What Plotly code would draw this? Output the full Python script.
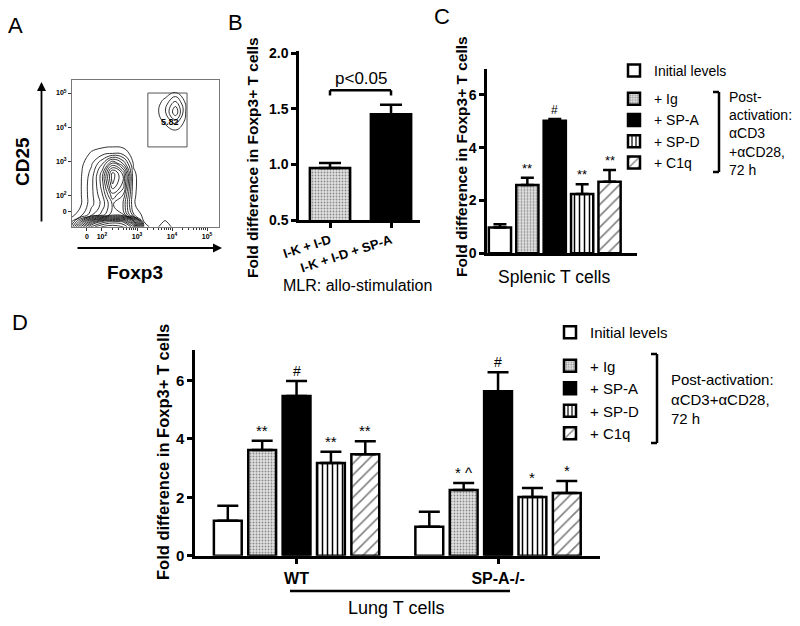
import plotly.graph_objects as go
import math

FONT = "Liberation Sans, Arial, Helvetica, sans-serif"
W, H = 800, 626

# ---------------- Panel A: flow cytometry contour (display units) ----------------
a_x = [1.1, 1.4, 1.7, 2.0, 2.3, 2.6, 2.9, 3.2, 3.5, 3.8, 4.1, 4.4, 4.7, 5.0, 5.4]
a_y = [1.1, 1.25, 1.45, 1.75, 2.05, 2.35, 2.65, 2.95, 3.25, 3.55, 3.85, 4.15, 4.45, 4.75, 5.05, 5.4]
a_z = [
    [4, 15, 27, 30, 31, 30, 25, 2, 0, 2.5, 0, 0, 0, 0, 0],
    [2, 10, 20, 25, 27, 26, 18, 1, 0, 1.2, 0, 0, 0, 0, 0],
    [0.3, 2, 6, 9, 13, 12, 3, 0.3, 0, 0, 0, 0, 0, 0, 0],
    [0, 0.9, 4, 7, 12, 10, 1.2, 0, 0, 0, 0, 0, 0, 0, 0],
    [0, 0.9, 4, 8, 15, 12, 1.3, 0, 0, 0, 0, 0, 0, 0, 0],
    [0, 0.9, 4, 9, 19, 15, 1.4, 0, 0, 0, 0, 0, 0, 0, 0],
    [0, 0.8, 3.5, 9, 20, 15, 1.3, 0, 0, 0, 0, 0, 0, 0, 0],
    [0, 0.5, 2.5, 6, 12, 8, 0.8, 0, 0, 0, 0, 0, 0, 0, 0],
    [0, 0, 1.2, 2.0, 2.5, 2.0, 0.2, 0, 0, 0, 0, 0, 0, 0, 0],
    [0, 0, 0, 0, 0, 0, 0, 0, 0, 0, 0, 0, 0, 0, 0],
    [0, 0, 0, 0, 0, 0, 0, 0, 0, 0, 0.2, 0, 0, 0, 0],
    [0, 0, 0, 0, 0, 0, 0, 0, 0, 1.2, 3.5, 0.3, 0, 0, 0],
    [0, 0, 0, 0, 0, 0, 0, 0, 0, 2.5, 8, 0.8, 0, 0, 0],
    [0, 0, 0, 0, 0, 0, 0, 0, 0, 1.5, 5, 0.4, 0, 0, 0],
    [0, 0, 0, 0, 0, 0, 0, 0, 0, 0, 0.5, 0, 0, 0, 0],
    [0, 0, 0, 0, 0, 0, 0, 0, 0, 0, 0, 0, 0, 0, 0],
]
a_xticks = [1.57, 2, 3, 4, 5]
a_yticks = [1.56, 2, 3, 4, 5]
a_ticklabels = ["0", "10<sup>2</sup>", "10<sup>3</sup>", "10<sup>4</sup>", "10<sup>5</sup>"]
a_gate_label = "5.82"

# ---------------- Panel B ----------------
b_labels = ["I-K + I-D", "I-K + I-D + SP-A"]
b_values = [0.967, 1.452]
b_sem = [0.045, 0.085]

# ---------------- Panel C / D shared ----------------
treatments = ["Initial levels", "+ Ig", "+ SP-A", "+ SP-D", "+ C1q"]

c_category = ["Splenic T cells"]
c_values = [0.98, 2.59, 5.02, 2.25, 2.71]
c_sem = [0.12, 0.27, 0.07, 0.37, 0.45]
c_marks = ["", "**", "#", "**", "**"]

d_groups = ["WT", "SP-A-/-"]
d_initial = [1.20, 0.99]
d_ig = [3.62, 2.25]
d_spa = [5.47, 5.64]
d_spd = [3.18, 2.01]
d_c1q = [3.48, 2.15]
d_initial_sem = [0.51, 0.52]
d_ig_sem = [0.32, 0.24]
d_spa_sem = [0.52, 0.65]
d_spd_sem = [0.38, 0.31]
d_c1q_sem = [0.44, 0.41]
d_marks_wt = ["", "**", "#", "**", "**"]
d_marks_ko = ["", "* ^", "#", "*", "*"]

# ---------------- styles ----------------
STY = [
    dict(bg="white", fg="black", shape="", size=8, sol=0.3),
    dict(bg="#e2e2e2", fg="#8a8a8a", shape=".", size=3, sol=0.3),
    dict(bg="black", fg="black", shape="", size=8, sol=0.3),
    dict(bg="white", fg="black", shape="|", size=5, sol=0.3),
    dict(bg="white", fg="#808080", shape="/", size=8, sol=0.2),
]
BARGAP = 0.147
BARGROUPGAP = 0.19
SLOT = (1 - BARGAP) / 5


def px(x):
    return x / W


def py(y):
    return 1 - y / H


fig = go.Figure()

# Panel A contour
fig.add_trace(go.Contour(
    x=a_x, y=a_y, z=a_z, xaxis="x", yaxis="y",
    contours=dict(coloring="lines", start=1, end=31, size=1.8),
    line=dict(width=0.8, smoothing=1.3),
    colorscale=[[0, "black"], [1, "black"]], showscale=False,
    showlegend=False, hoverinfo="skip",
))

# Panel B bars (two traces sharing one offset group)
for j, sty_idx in enumerate([1, 2]):
    s = STY[sty_idx]
    fig.add_trace(go.Bar(
        x=[b_labels[j]], y=[b_values[j]], xaxis="x2", yaxis="y2", width=0.66,
        offsetgroup="b",
        marker=dict(color=s["bg"], line=dict(color="black", width=2.5),
                    pattern=dict(shape=s["shape"], fgcolor=s["fg"], bgcolor=s["bg"],
                                 size=s["size"], solidity=s["sol"])),
        error_y=dict(type="data", symmetric=False, array=[b_sem[j]], arrayminus=[0],
                     color="black", thickness=2.5, width=11),
        showlegend=False,
    ))

# Panel C bars
for i, name in enumerate(treatments):
    s = STY[i]
    fig.add_trace(go.Bar(
        x=c_category, y=[c_values[i]], name=name, xaxis="x3", yaxis="y3",
        legend="legend", legendgroup="c_init" if i == 0 else "c_post",
        marker=dict(color=s["bg"], line=dict(color="black", width=2.5),
                    pattern=dict(shape=s["shape"], fgcolor=s["fg"], bgcolor=s["bg"],
                                 size=s["size"], solidity=s["sol"])),
        error_y=dict(type="data", symmetric=False, array=[c_sem[i]], arrayminus=[0],
                     color="black", thickness=2.5, width=6.5),
    ))

# Panel D bars
d_vals = [d_initial, d_ig, d_spa, d_spd, d_c1q]
d_sems = [d_initial_sem, d_ig_sem, d_spa_sem, d_spd_sem, d_c1q_sem]
for i, name in enumerate(treatments):
    s = STY[i]
    fig.add_trace(go.Bar(
        x=d_groups, y=d_vals[i], name=name, xaxis="x4", yaxis="y4",
        legend="legend2", legendgroup="d_init" if i == 0 else "d_post",
        marker=dict(color=s["bg"], line=dict(color="black", width=2.5),
                    pattern=dict(shape=s["shape"], fgcolor=s["fg"], bgcolor=s["bg"],
                                 size=s["size"], solidity=s["sol"])),
        error_y=dict(type="data", symmetric=False, array=d_sems[i], arrayminus=[0, 0],
                     color="black", thickness=2.5, width=10.5),
    ))

ann = []
shapes = []


def ptext(text, x, y, size, bold=False, angle=0, xanchor="center", align="center"):
    f = dict(size=size, family=FONT, color="black")
    if bold:
        f["weight"] = "bold"
    ann.append(dict(x=px(x), y=py(y), xref="paper", yref="paper", text=text, showarrow=False,
                    xanchor=xanchor, yanchor="middle", textangle=angle, align=align, font=f))


# significance marks C
for i, m in enumerate(c_marks):
    if m:
        ann.append(dict(x=(i - 2) * SLOT, y=c_values[i] + c_sem[i], xref="x3", yref="y3",
                        text=m, showarrow=False, xanchor="center", yanchor="bottom",
                        font=dict(size=13 if m != "#" else 12, family=FONT, color="black")))
# significance marks D
for g, marks in enumerate([d_marks_wt, d_marks_ko]):
    for i, m in enumerate(marks):
        if m:
            ann.append(dict(x=g + (i - 2) * SLOT, y=d_vals[i][g] + d_sems[i][g], xref="x4", yref="y4",
                            text=m, showarrow=False, xanchor="center", yanchor="bottom",
                            font=dict(size=15 if m != "#" else 14, family=FONT, color="black")))

# panel letters
for t, x, y in [("A", 15, 25), ("B", 235, 22), ("C", 442, 16), ("D", 20, 322)]:
    ptext(t, x, y, 22)

# Panel A texts and arrows
ptext("CD25", 23, 162, 19, bold=True, angle=-90)
ptext("Foxp3", 135, 272, 19, bold=True)
ann.append(dict(x=px(41.5), y=py(82), xref="paper", yref="paper", text="", showarrow=True,
                ax=0, ay=141, arrowhead=2, arrowsize=1, arrowwidth=1.8, arrowcolor="black"))
ann.append(dict(x=px(222), y=py(248), xref="paper", yref="paper", text="", showarrow=True,
                ax=-146, ay=0, arrowhead=2, arrowsize=1, arrowwidth=1.8, arrowcolor="black"))
ann.append(dict(x=3.94, y=4.17, xref="x", yref="y", text=a_gate_label, showarrow=False,
                xanchor="center", yanchor="middle",
                font=dict(size=9, family=FONT, color="black", weight="bold")))
shapes.append(dict(type="rect", xref="x", yref="y", x0=3.31, x1=4.43, y0=3.43, y1=5.0,
                   line=dict(color="#555555", width=1)))

# y-axis titles
YT = "Fold difference in Foxp3+ T cells"
for x, y, sz in [(252, 158, 15.5), (461, 157, 15.5), (163, 452, 16.5)]:
    ptext(YT, x, y, sz, bold=True, angle=-90)

# Panel B extras
ann.append(dict(x=0.5, y=1.667, xref="x2", yref="y2", text="p<0.05", showarrow=False,
                xanchor="center", yanchor="bottom", font=dict(size=17, family=FONT, color="black")))
for (x0, y0, x1, y1) in [(0, 1.62, 0, 1.667), (0, 1.667, 1, 1.667), (1, 1.667, 1, 1.62)]:
    shapes.append(dict(type="line", xref="x2", yref="y2", x0=x0, y0=y0, x1=x1, y1=y1,
                       line=dict(color="black", width=2.5)))
ptext("MLR: allo-stimulation", 357, 285, 16)

# Panel C extras
ptext("Splenic T cells", 554, 277, 17.5)
ptext("Post-<br>activation:<br>\u03b1CD3<br>+\u03b1CD28,<br>72 h", 727, 133, 14,
      xanchor="left", align="left")
for (x0, y0, x1, y1) in [(719, 92, 719, 172), (713, 92, 719, 92), (713, 172, 719, 172)]:
    shapes.append(dict(type="line", xref="paper", yref="paper", x0=px(x0), y0=py(y0),
                       x1=px(x1), y1=py(y1), line=dict(color="black", width=2.5)))

# Panel D extras
ptext("Post-activation:<br>\u03b1CD3+\u03b1CD28,<br>72 h", 669, 399, 15, xanchor="left", align="left")
for (x0, y0, x1, y1) in [(657, 354, 657, 443), (651, 354, 657, 354), (651, 443, 657, 443)]:
    shapes.append(dict(type="line", xref="paper", yref="paper", x0=px(x0), y0=py(y0),
                       x1=px(x1), y1=py(y1), line=dict(color="black", width=2.5)))
shapes.append(dict(type="line", xref="paper", yref="paper", x0=px(290), y0=py(591),
                   x1=px(510), y1=py(591), line=dict(color="black", width=2.5)))
ptext("Lung T cells", 396, 608, 18)

bold = lambda s: dict(size=s, family=FONT, color="black", weight="bold")
common_y = dict(showline=True, linewidth=2.5, linecolor="black", ticks="outside", ticklen=5,
                tickwidth=2.5, tickcolor="black", showgrid=False, zeroline=False, automargin=False)

minor_x = [d + math.log10(k) for d in (2, 3, 4) for k in range(2, 10)]

fig.update_layout(
    template="none",
    width=W, height=H, margin=dict(l=0, r=0, t=0, b=0, pad=0, autoexpand=False),
    paper_bgcolor="white", plot_bgcolor="white",
    font=dict(family=FONT, color="black"),
    barmode="group", bargap=BARGAP, bargroupgap=BARGROUPGAP,
    xaxis=dict(domain=[px(72), px(219)], range=[1.143, 5.343], anchor="y",
               tickvals=a_xticks, ticktext=a_ticklabels, tickfont=bold(7),
               ticks="outside", ticklen=3, tickwidth=1, tickcolor="#333",
               showline=True, mirror=True, linecolor="#777", linewidth=1,
               showgrid=False, zeroline=False, automargin=False,
               minor=dict(tickvals=minor_x, ticks="outside", ticklen=2, tickwidth=0.8, tickcolor="#333")),
    yaxis=dict(domain=[py(227), py(80)], range=[1.096, 5.38], anchor="x",
               tickvals=a_yticks, ticktext=a_ticklabels, tickfont=bold(7),
               ticks="outside", ticklen=3, tickwidth=1, tickcolor="#333",
               showline=True, mirror=True, linecolor="#777", linewidth=1,
               showgrid=False, zeroline=False, automargin=False),
    xaxis2=dict(domain=[px(299), px(420)], type="category", range=[-0.508, 1.475], anchor="y2",
                categoryorder="array", categoryarray=b_labels,
                showline=True, linewidth=2.5, linecolor="black", ticks="outside", ticklen=5,
                tickwidth=2.5, tickcolor="black", tickangle=-18, tickfont=bold(13),
                showgrid=False, zeroline=False, automargin=False),
    yaxis2=dict(domain=[py(220), py(51)], range=[0.5, 2.02], anchor="x2",
                tickvals=[0.5, 1.0, 1.5, 2.0], ticktext=["0.5", "1.0", "1.5", "2.0"],
                tickfont=bold(14), **common_y),
    xaxis3=dict(domain=[px(487), px(637)], type="category", range=[-0.4218, 0.5121], anchor="y3",
                showline=True, linewidth=2.5, linecolor="black", ticks="", showticklabels=False,
                showgrid=False, zeroline=False, automargin=False),
    yaxis3=dict(domain=[py(253.3), py(68.5)], range=[0, 7], anchor="x3",
                tickvals=[0, 2, 4, 6], tickfont=bold(14), **common_y),
    xaxis4=dict(domain=[px(195), px(600)], type="category", range=[-0.504, 1.506], anchor="y4",
                showline=True, linewidth=2.5, linecolor="black", ticks="outside", ticklen=6,
                tickwidth=2.5, tickcolor="black", tickfont=bold(16),
                showgrid=False, zeroline=False, automargin=False),
    yaxis4=dict(domain=[py(555.7), py(350)], range=[0, 7.05], anchor="x4",
                tickvals=[0, 2, 4, 6], tickfont=bold(15), **common_y),
    legend=dict(x=px(614), y=py(55), xanchor="left", yanchor="top",
                font=dict(size=14, family=FONT, color="black"), tracegroupgap=7,
                traceorder="grouped", bgcolor="rgba(0,0,0,0)", borderwidth=0),
    legend2=dict(x=px(550), y=py(316), xanchor="left", yanchor="top",
                 font=dict(size=15, family=FONT, color="black"), tracegroupgap=11,
                 traceorder="grouped", bgcolor="rgba(0,0,0,0)", borderwidth=0),
    annotations=ann, shapes=shapes,
)

fig.write_html("out.html", config={"displayModeBar": False},
               post_script="document.body.style.margin='0';document.body.style.padding='0';")
